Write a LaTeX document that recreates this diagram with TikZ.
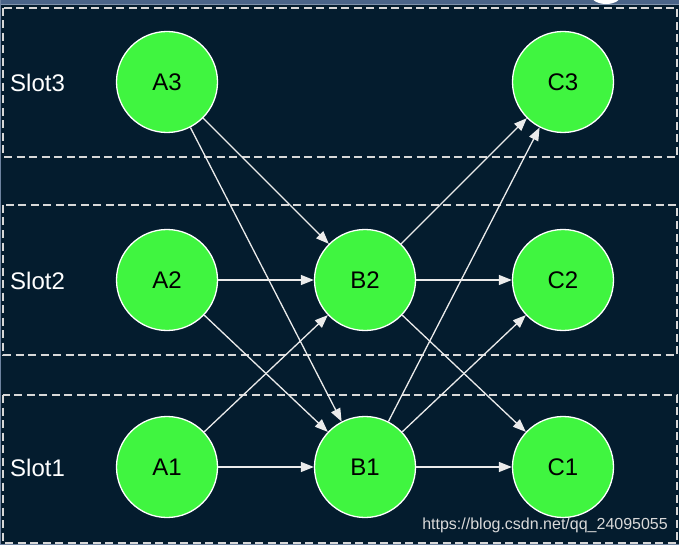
\documentclass[tikz,border=0pt]{standalone}
\usepackage{fontspec}
\setmainfont{Liberation Sans}
\usetikzlibrary{arrows.meta}
\definecolor{bg}{HTML}{041C2E}
\definecolor{nodegreen}{RGB}{64,245,64}
\definecolor{dashc}{HTML}{D8D8D8}
\definecolor{framec}{HTML}{4A6488}
\begin{document}
\begin{tikzpicture}[x=1pt,y=-1pt,
  stnode/.style={circle,minimum size=101pt,inner sep=0pt,draw=white,line width=1.3pt,fill=nodegreen,
     font=\fontsize{24}{28}\selectfont,text=black},
  slotbox/.style={draw=dashc,line width=1.6pt,dash pattern=on 8pt off 4.5pt},
  slotlabel/.style={anchor=west,text=white,font=\fontsize{24}{28}\selectfont,inner sep=0pt},
  flow/.style={draw=white!92!black,line width=1.3pt,-{Triangle[length=13pt,width=10pt]}}]
\useasboundingbox (0,0) rectangle (679,545);
\fill[bg] (0,0) rectangle (679,545);
% top band and frame
\fill[framec] (0,0) rectangle (679,5);
\draw[framec!70!white,line width=1pt] (0,5) -- (679,5);
\draw[framec!80!white,line width=1.2pt] (0.6,0) -- (0.6,545);
\draw[framec!80!white,line width=1.2pt] (0,544.4) -- (679,544.4);
\begin{scope}
\clip (0,0) rectangle (679,5);
\fill[white] (606,-3) ellipse (14pt and 7pt);
\end{scope}
% slots
\draw[slotbox] (3,8) rectangle (677,157);
\draw[slotbox] (3,205) rectangle (677,355);
\draw[slotbox] (3,395) rectangle (677,543);
\node[slotlabel] (s3) at (10,83) {Slot3};
\node[slotlabel] (s2) at (10,281) {Slot2};
\node[slotlabel] (s1) at (10,468) {Slot1};
% nodes
\node[stnode] (A3) at (167,82) {A3};
\node[stnode] (C3) at (563,82) {C3};
\node[stnode] (A2) at (167,280) {A2};
\node[stnode] (B2) at (365,280) {B2};
\node[stnode] (C2) at (563,280) {C2};
\node[stnode] (A1) at (167,467) {A1};
\node[stnode] (B1) at (365,467) {B1};
\node[stnode] (C1) at (563,467) {C1};
% edges
\draw[flow] (A3) -- (B2);
\draw[flow] (A3) -- (B1);
\draw[flow] (A2) -- (B2);
\draw[flow] (A2) -- (B1);
\draw[flow] (A1) -- (B2);
\draw[flow] (A1) -- (B1);
\draw[flow] (B2) -- (C3);
\draw[flow] (B2) -- (C2);
\draw[flow] (B2) -- (C1);
\draw[flow] (B1) -- (C3);
\draw[flow] (B1) -- (C2);
\draw[flow] (B1) -- (C1);
% watermark
\node[anchor=east,text=white!70!gray,font=\fontsize{16}{19}\selectfont,inner sep=0pt] (wm) at (668,525) {https://blog.csdn.net/qq\_24095055};
\end{tikzpicture}
\end{document}
